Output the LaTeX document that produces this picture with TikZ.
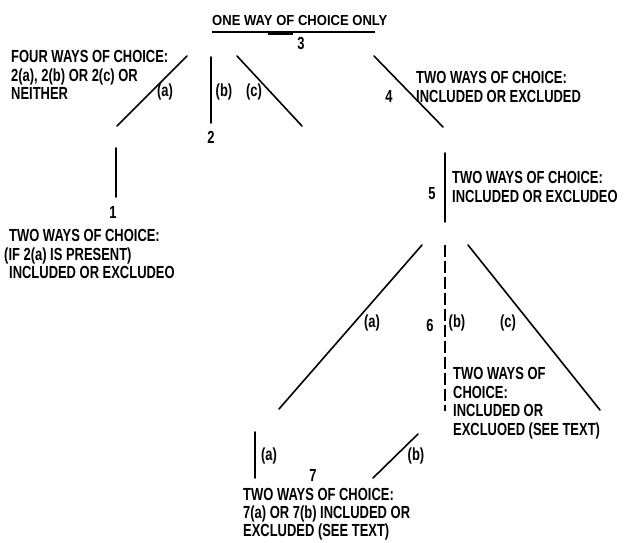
\documentclass[tikz,border=0pt]{standalone}
\usepackage{fontspec}
\setmainfont{Liberation Sans}[FakeStretch=0.74]
\newfontfamily\titlefont{Liberation Sans}[FakeStretch=0.9]
\begin{document}
\begin{tikzpicture}[x=1pt,y=-1pt,
  ln/.style={line width=1.6pt, line cap=round},
  dln/.style={line width=1.6pt, dash pattern=on 12pt off 4pt},
  txt/.style={font=\bfseries\fontsize{17.5}{18.7}\selectfont, inner sep=0pt, align=left, anchor=north west},
  lbl/.style={font=\bfseries\fontsize{17.5}{18.7}\selectfont, inner sep=0pt}]
\useasboundingbox (0,0) rectangle (629,542);
% title
\node[inner sep=0pt, anchor=north west, font=\titlefont\bfseries\fontsize{14.5}{16}\selectfont] (title) at (212,15) {ONE WAY OF CHOICE ONLY};
\coordinate (ul1) at (212,32);
\coordinate (ul2) at (375,32);
\draw[line width=1.3pt] (ul1) -- (ul2);
\coordinate (d1) at (268,34);
\coordinate (d2) at (293,34);
\draw[line width=1.3pt] (d1) -- (d2);
\node[lbl] (n3) at (301,43) {3};
% branch 2
\coordinate (a1) at (187,56); \coordinate (a2) at (117,126);
\draw[ln] (a1) -- (a2);
\node[lbl] (la) at (165,92) {(a)};
\coordinate (b1) at (211,57); \coordinate (b2) at (211,123);
\draw[ln] (b1) -- (b2);
\node[lbl] (lb) at (224,92) {(b)};
\node[lbl] (n2) at (211,137) {2};
\coordinate (c1) at (237,56); \coordinate (c2) at (302,126);
\draw[ln] (c1) -- (c2);
\node[lbl] (lc) at (254,92) {(c)};
\node[txt] (t2) at (11,50) {FOUR WAYS OF CHOICE:\\2(a), 2(b) OR 2(c) OR\\NEITHER};
% branch 1
\coordinate (e1) at (116,148); \coordinate (e2) at (116,197);
\draw[ln] (e1) -- (e2);
\node[lbl] (n1) at (113,212) {1};
\node[txt] (t1) at (4,229) {\hspace*{5pt}TWO WAYS OF CHOICE:\\(IF 2(a) IS PRESENT)\\\hspace*{5pt}INCLUDED OR EXCLUDEO};
% branch 4
\coordinate (f1) at (374,56); \coordinate (f2) at (443,127);
\draw[ln] (f1) -- (f2);
\node[lbl] (n4) at (389,96) {4};
\node[txt] (t4) at (416,71) {TWO WAYS OF CHOICE:\\INCLUDED OR EXCLUDED};
% branch 5
\coordinate (g1) at (445,153); \coordinate (g2) at (445,222);
\draw[ln] (g1) -- (g2);
\node[lbl] (n5) at (432,194) {5};
\node[txt] (t5) at (452,171) {TWO WAYS OF CHOICE:\\INCLUDED OR EXCLUDEO};
% branch 6
\coordinate (h1) at (422,245); \coordinate (h2) at (279,409);
\draw[ln] (h1) -- (h2);
\node[lbl] (l6a) at (372,323) {(a)};
\coordinate (i1) at (445,245); \coordinate (i2) at (445,411);
\draw[dln] (i1) -- (i2);
\node[lbl] (n6) at (430,325) {6};
\node[lbl] (l6b) at (457,323) {(b)};
\coordinate (j1) at (468,245); \coordinate (j2) at (600,410);
\draw[ln] (j1) -- (j2);
\node[lbl] (l6c) at (508,323) {(c)};
\node[txt] (t6) at (453,367) {TWO WAYS OF\\CHOICE:\\INCLUDED OR\\EXCLUOED (SEE TEXT)};
% branch 7
\coordinate (k1) at (255,432); \coordinate (k2) at (255,478);
\draw[ln] (k1) -- (k2);
\node[lbl] (l7a) at (269,456) {(a)};
\node[lbl] (n7) at (313,475) {7};
\coordinate (m1) at (418,434); \coordinate (m2) at (373,478);
\draw[ln] (m1) -- (m2);
\node[lbl] (l7b) at (416,456) {(b)};
\node[txt, font=\bfseries\fontsize{17.5}{18.2}\selectfont] (t7) at (243,488) {TWO WAYS OF CHOICE:\\7(a) OR 7(b) INCLUDED OR\\EXCLUDED (SEE TEXT)};
\end{tikzpicture}
\end{document}
